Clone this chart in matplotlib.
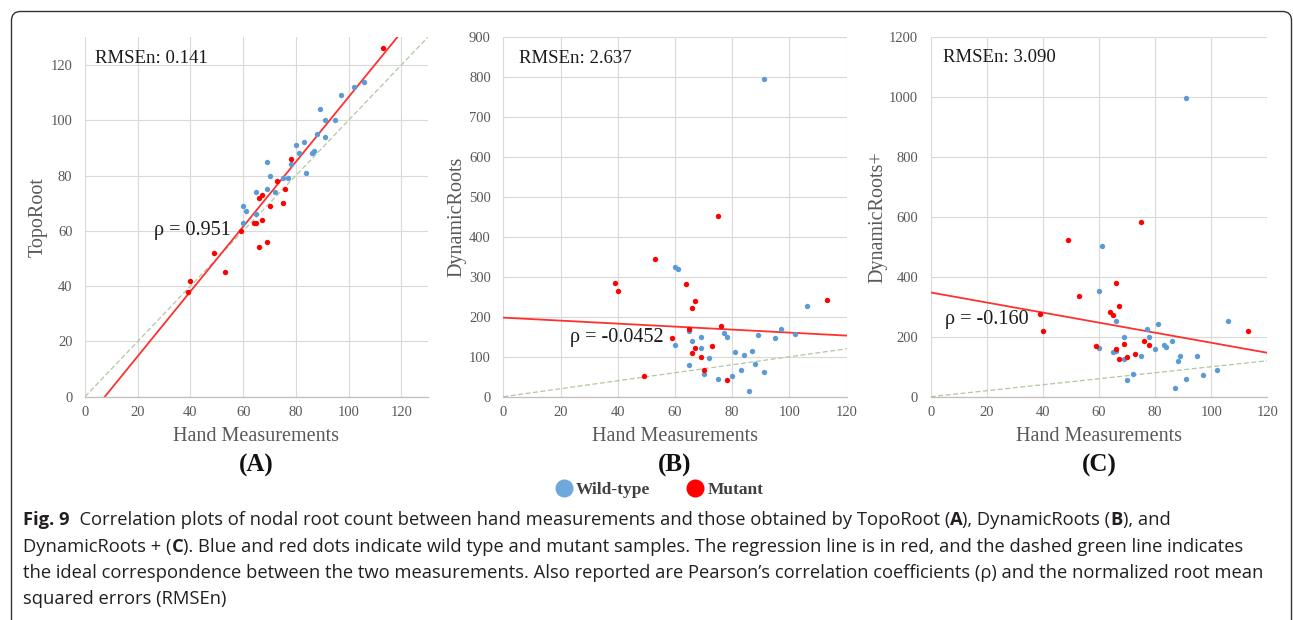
import matplotlib
matplotlib.use("Agg")
import matplotlib.pyplot as plt
from matplotlib.lines import Line2D
from matplotlib.patches import FancyBboxPatch
from matplotlib.transforms import IdentityTransform

W, H = 1293, 620

# (A) TopoRoot vs hand measurements
a_wt_x = [60, 61, 60, 65, 65, 69, 69, 70, 72, 75, 77, 78, 80, 81, 83, 84, 86, 87, 88, 89, 91, 91, 95, 97, 102, 106]
a_wt_y = [69, 67, 63, 74, 66, 85, 75, 80, 74, 79, 79, 84, 91, 88, 92, 81, 88, 89, 95, 104, 100, 94, 100, 109, 112, 114]
a_mu_x = [39, 40, 49, 53, 59, 64, 65, 66, 67, 67, 66, 69, 70, 73, 75, 76, 78, 113]
a_mu_y = [38, 42, 52, 45, 60, 63, 63, 72, 73, 64, 54, 56, 69, 78, 70, 75, 86, 126]

# (B) DynamicRoots
b_wt_x = [60, 60, 61, 65, 65, 66, 69, 69, 70, 72, 75, 77, 78, 80, 81, 83, 84, 86, 87, 88, 89, 91, 91, 95, 97, 102, 106]
b_wt_y = [129, 324, 321, 164, 80, 139, 149, 122, 56, 98, 45, 159, 150, 51, 111, 68, 104, 14, 114, 82, 154, 796, 62, 146, 170, 158, 227]
b_mu_x = [39, 40, 49, 53, 59, 64, 65, 66, 67, 66, 67, 69, 70, 73, 75, 76, 78, 113]
b_mu_y = [284, 265, 53, 346, 147, 283, 170, 223, 240, 109, 122, 100, 67, 128, 452, 178, 41, 242]

# (C) DynamicRoots+
c_wt_x = [60, 60, 61, 65, 66, 66, 69, 69, 70, 72, 75, 77, 78, 80, 81, 83, 84, 86, 87, 88, 89, 91, 91, 95, 97, 102, 106]
c_wt_y = [161, 354, 502, 150, 153, 253, 200, 127, 55, 77, 136, 227, 201, 160, 244, 174, 167, 187, 30, 119, 135, 60, 997, 136, 72, 88, 252]
c_mu_x = [39, 40, 49, 53, 59, 64, 65, 66, 66, 67, 67, 69, 70, 73, 75, 76, 78, 113]
c_mu_y = [276, 218, 524, 335, 169, 282, 273, 380, 159, 303, 127, 177, 131, 142, 584, 187, 174, 219]

# regression lines (slope, intercept)
fit_a = (1.172, -8.8)
fit_b = (-0.375, 198)
fit_c = (-1.678, 348)

panel_names = ["(A)", "(B)", "(C)"]
y_labels = ["TopoRoot", "DynamicRoots", "DynamicRoots+"]
rmse_labels = ["RMSEn: 0.141", "RMSEn: 2.637", "RMSEn: 3.090"]
rho_labels = ["\u03c1 = 0.951", "\u03c1 = -0.0452", "\u03c1 = -0.160"]
legend_labels = ["Wild-type", "Mutant"]

BLUE = "#5B9BD5"
RED = "#FF0000"
GREY = "#595959"
SERIF = ["Liberation Serif", "DejaVu Serif"]
CAP_FONT = ["Open Sans", "DejaVu Sans"]

fig = plt.figure(figsize=(W / 100, H / 100), dpi=100)


def px_axes(l, t, r, b):
    return fig.add_axes([l / W, 1 - b / H, (r - l) / W, (b - t) / H])


panels = [
    dict(box=(85, 37.3, 427.7, 396.7), xlim=130, ylim=130, ystep=20,
         wt=(a_wt_x, a_wt_y), mu=(a_mu_x, a_mu_y), fit=fit_a, ideal=130,
         rmse_xy=(3.8, 122.5), rho_xy=(26, 60), ylab_x=-0.137),
    dict(box=(503.3, 37.3, 846.7, 396.7), xlim=120, ylim=900, ystep=100,
         wt=(b_wt_x, b_wt_y), mu=(b_mu_x, b_mu_y), fit=fit_b, ideal=120,
         rmse_xy=(5.6, 848), rho_xy=(23.3, 149), ylab_x=-0.136),
    dict(box=(930.7, 37.3, 1267.3, 396.7), xlim=120, ylim=1200, ystep=200,
         wt=(c_wt_x, c_wt_y), mu=(c_mu_x, c_mu_y), fit=fit_c, ideal=120,
         rmse_xy=(4.5, 1131), rho_xy=(5.2, 259), ylab_x=-0.157),
]

for i, p in enumerate(panels):
    ax = px_axes(*p["box"])
    ax.set_xlim(0, p["xlim"])
    ax.set_ylim(0, p["ylim"])
    ax.set_xticks(range(0, 121, 20))
    ax.set_yticks(range(0, p["ylim"] + 1, p["ystep"]))
    ax.set_axisbelow(True)
    ax.grid(True, color="#D9D9D9", lw=0.8)
    for s in ["top", "right", "left"]:
        ax.spines[s].set_visible(False)
    ax.spines["bottom"].set_color("#BFBFBF")
    ax.spines["bottom"].set_linewidth(0.9)
    ax.tick_params(length=0, labelsize=10.5, labelcolor=GREY)
    ax.tick_params(axis="x", pad=7)
    ax.tick_params(axis="y", pad=9)
    for lab in ax.get_xticklabels() + ax.get_yticklabels():
        lab.set_family(SERIF)

    # ideal 1:1 line
    ax.plot([0, p["ideal"]], [0, p["ideal"]], color="#AFC8A2", lw=0.9, ls=(0, (4, 2)))
    # regression line
    m, c = p["fit"]
    ax.plot([0, p["xlim"]], [c, m * p["xlim"] + c], color="#FF3030", lw=1.3)

    ax.scatter(*p["wt"], s=15, color=BLUE, lw=0, zorder=3)
    ax.scatter(*p["mu"], s=15, color=RED, lw=0, zorder=3)

    ax.text(*p["rmse_xy"], rmse_labels[i], family=SERIF, fontsize=13.5, color="#1a1a1a",
            va="center", ha="left")
    ax.text(*p["rho_xy"], rho_labels[i], family=SERIF, fontsize=14.5, color="#1a1a1a",
            va="center", ha="left")

    ax.set_xlabel("Hand Measurements", family=SERIF, fontsize=14.5, color=GREY, va="center")
    ax.xaxis.set_label_coords(0.5, -40 / 359.4)
    ax.set_ylabel(y_labels[i], family=SERIF, fontsize=14.5, color=GREY, va="center")
    ax.yaxis.set_label_coords(p["ylab_x"], 0.5)

    l, t, r, b = p["box"]
    fig.text((l + r) / 2 / W, 1 - 465 / H, panel_names[i], family=SERIF, fontsize=18,
             fontweight="bold", color="#111111", ha="center", va="center")

# legend
handles = [Line2D([], [], ls="", marker="o", ms=13, color="#6FA8DC", mec="none"),
           Line2D([], [], ls="", marker="o", ms=13, color=RED, mec="none")]
fig.legend(handles, legend_labels, loc="center", bbox_to_anchor=(660 / W, 1 - 490 / H),
           ncol=2, frameon=False, handlelength=0.8, handletextpad=0.3, columnspacing=2.2,
           prop=dict(family=SERIF, weight="bold", size=12.5), labelcolor="#404040")

# frame around figure + caption
frame = FancyBboxPatch((11.5, -40), 1280, H - 11.5 + 40, boxstyle="round,pad=0,rounding_size=9",
                       transform=IdentityTransform(), fc="none", ec="#333333", lw=1.0)
fig.patches.append(frame)

caption = [
    [("Fig. 9", True), ("  Correlation plots of nodal root count between hand measurements and those obtained by TopoRoot (", False),
     ("A", True), ("), DynamicRoots (", False), ("B", True), ("), and", False)],
    [("DynamicRoots + (", False), ("C", True),
     ("). Blue and red dots indicate wild type and mutant samples. The regression line is in red, and the dashed green line indicates", False)],
    [("the ideal correspondence between the two measurements. Also reported are Pearson\u2019s correlation coefficients (\u03c1) and the normalized root mean", False)],
    [("squared errors (RMSEn)", False)],
]
renderer = fig.canvas.get_renderer()
for k, runs in enumerate(caption):
    x = 23
    y = 525 + 26.5 * k
    for txt, bold in runs:
        t = fig.text(x / W, 1 - y / H, txt, family=CAP_FONT, fontsize=13.2,
                     fontweight="bold" if bold else "normal", color="#231F20",
                     ha="left", va="baseline")
        x += t.get_window_extent(renderer=renderer).width

fig.savefig("out.png", dpi=100)
